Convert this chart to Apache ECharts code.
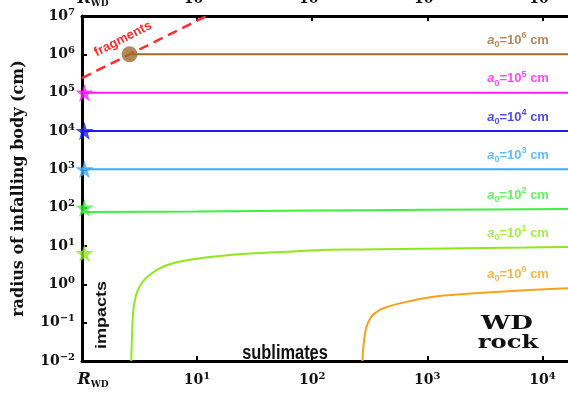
<!DOCTYPE html>
<html>
<head>
<meta charset="utf-8">
<script src="https://cdn.jsdelivr.net/npm/echarts@6/dist/echarts.min.js"></script>
<style>
html, body { margin: 0; padding: 0; background: #fff; }
#main { width: 568px; height: 396px; }
</style>
</head>
<body>
<div id="main"></div>
<script>
// axis range (distance in R_WD, radius in cm)
var xMin = 1, xMax = 16700;
var yMin = 0.01, yMax = 1e7;

// a0 = 10^6 .. 10^3 : flat tracks
var track6 = [[2.59, 1e6], [xMax, 1e6]];
var track5 = [[1, 1e5], [xMax, 1e5]];
var track4 = [[1, 1e4], [xMax, 1e4]];
var track3 = [[1, 1e3], [xMax, 1e3]];
// a0 = 10^2
var track2X = [1, 10, 100, 1000, xMax];
var track2Y = [77, 80, 84, 88, 92];
// a0 = 10^1
var track1X = [2.678, 2.71, 2.765, 2.861, 3.056, 3.379, 3.864, 4.72, 6.16, 9.19, 15.7, 30.6, 59.7, 116, 259, 577, 1400, 3056, 7000, xMax];
var track1Y = [0.01, 0.0352, 0.143, 0.352, 0.711, 1.17, 1.75, 2.62, 3.53, 4.49, 5.48, 6.44, 7.10, 7.85, 8.1, 8.34, 8.6, 8.85, 9.1, 9.4];
// a0 = 10^0
var track0X = [273.3, 280.4, 296.0, 320.7, 349.5, 412.8, 577, 1123, 3056, 7000, xMax];
var track0Y = [0.01, 0.0289, 0.0783, 0.130, 0.175, 0.237, 0.319, 0.475, 0.604, 0.70, 0.787];
// fragmentation limit
var fragX = [1, 2.59, 12.1];
var fragY = [2.41e5, 1e6, 1e7];
// starting points (stars) and the fragmenting body (dot)
var starY = [1e5, 1e4, 1e3, 100, 6.5];
var dotX = [2.59], dotY = [1e6];
// right-hand labels
var labelExp = [6, 5, 4, 3, 2, 1, 0];
var labelY = [1e6, 1e5, 1e4, 1e3, 92, 9.4, 0.8];
var labelX = 11400;

var cBrown = '#a06b30', cMag = '#ff1aff', cBlue = '#1a1af0', cSky = '#3aabff',
    cGreen = '#3cf03c', cLime = '#8ee81a', cOrange = '#f7a21b', cRed = '#ff2a2a';
var labelColors = [cBrown, cMag, cBlue, cSky, cGreen, cLime, cOrange];
var starColors = [cMag, cBlue, cSky, cGreen, cLime];

var starPath = 'path://M50,0 L61,35 L98,35 L68,57 L79,91 L50,70 L21,91 L32,57 L2,35 L39,35 Z';
var serif = "'DejaVu Serif', serif";
var sans = "'Liberation Sans', Arial, sans-serif";

function zip(xs, ys) {
	var out = [];
	for (var i = 0; i < xs.length; i++) out.push([xs[i], ys[i]]);
	return out;
}

function powLabel(v) {
	var e = Math.round(Math.log10(v));
	if (Math.abs(Math.log10(v) - e) > 1e-6) return '';
	return '{b|10}{e|' + (e < 0 ? '\u2212' + (-e) : e) + '}';
}

function xLabel(v) {
	var e = Math.log10(v);
	if (Math.abs(e) < 1e-6) return '{r|R}{w|WD}';
	return powLabel(v);
}

var richPow = {
	b: { fontFamily: serif, fontWeight: 'bold', fontSize: 14, color: '#111', lineHeight: 18 },
	e: { fontFamily: serif, fontWeight: 'bold', fontSize: 10, color: '#111', lineHeight: 10, verticalAlign: 'top' },
	r: { fontFamily: serif, fontStyle: 'italic', fontWeight: 'bold', fontSize: 16, color: '#111', lineHeight: 18, padding: [0, 0, 0, 22] },
	w: { fontFamily: serif, fontWeight: 'bold', fontSize: 9, color: '#111', lineHeight: 9, verticalAlign: 'bottom' }
};

var a0Rich = {
	a: { fontFamily: sans, fontWeight: 'bold', fontStyle: 'italic', fontSize: 13, lineHeight: 18 },
	s: { fontFamily: sans, fontWeight: 'bold', fontSize: 9, lineHeight: 9, verticalAlign: 'bottom' },
	t: { fontFamily: sans, fontWeight: 'bold', fontSize: 13, lineHeight: 18 },
	p: { fontFamily: sans, fontWeight: 'bold', fontSize: 9, lineHeight: 9, verticalAlign: 'top' }
};

var labelData = [];
for (var i = 0; i < labelExp.length; i++) {
	labelData.push({
		value: [labelX, labelY[i], labelExp[i]],
		label: { color: labelColors[i] }
	});
}

var starData = [];
for (var i = 0; i < starY.length; i++) {
	starData.push({ value: [1.05, starY[i]], itemStyle: { color: starColors[i] } });
}

function track(data, color, extra) {
	var s = {
		type: 'line',
		data: data,
		showSymbol: false,
		lineStyle: { color: color, width: 2 },
		itemStyle: { color: color },
		animation: false,
		z: 3
	};
	for (var k in extra) s[k] = extra[k];
	return s;
}

var chart = echarts.init(document.getElementById('main'));
var option = {
	animation: false,
	grid: { left: 82, right: 0, top: 16, bottom: 35, containLabel: false, outerBoundsMode: 'none' },
	xAxis: [{
		type: 'log', logBase: 10, min: xMin, max: xMax,
		position: 'bottom',
		axisLine: { lineStyle: { color: '#000', width: 3 } },
		axisTick: { inside: true, length: 5, lineStyle: { color: '#000', width: 2 } },
		minorTick: { show: false },
		splitLine: { show: false },
		axisLabel: { margin: 10, formatter: xLabel, rich: richPow, showMaxLabel: false }
	}, {
		type: 'log', logBase: 10, min: xMin, max: xMax,
		position: 'top',
		axisLine: { lineStyle: { color: '#000', width: 3 } },
		axisTick: { inside: true, length: 5, lineStyle: { color: '#000', width: 2 } },
		splitLine: { show: false },
		axisLabel: { margin: 8, formatter: xLabel, rich: richPow, showMaxLabel: false }
	}],
	yAxis: {
		type: 'log', logBase: 10, min: yMin, max: yMax,
		axisLine: { onZero: false, lineStyle: { color: '#000', width: 3 } },
		axisTick: { inside: true, length: 5, lineStyle: { color: '#000', width: 2 } },
		splitLine: { show: false },
		axisLabel: { margin: 7, formatter: powLabel, rich: richPow },
		name: 'radius of infalling body (cm)',
		nameLocation: 'middle',
		nameRotate: 90,
		nameGap: 55,
		nameTextStyle: { fontFamily: serif, fontWeight: 'bold', fontSize: 16, color: '#111' }
	},
	series: [
		track(zip(fragX, fragY), cRed, { lineStyle: { color: cRed, width: 2.5, type: [10, 6] } }),
		track(track6, cBrown),
		track(track5, cMag),
		track(track4, cBlue),
		track(track3, cSky),
		track(zip(track2X, track2Y), cGreen, { smooth: 0.3 }),
		track(zip(track1X, track1Y), cLime, { smooth: 0.25 }),
		track(zip(track0X, track0Y), cOrange, { smooth: 0.25 }),
		{
			type: 'scatter', data: starData, symbol: starPath, symbolSize: 18, z: 5
		},
		{
			type: 'scatter', data: zip(dotX, dotY), symbol: 'circle', symbolSize: 16,
			itemStyle: { color: cBrown }, z: 5
		},
		{
			type: 'scatter', data: labelData, symbolSize: 0, silent: true, z: 6,
			label: {
				show: true, position: 'left', distance: 0, offset: [0, -14],
				formatter: function (p) {
					return '{a|a}{s|0}{t|=10}{p|' + p.value[2] + '}{t| cm}';
				},
				rich: a0Rich
			}
		}
	],
	graphic: [
		{ type: 'text', x: 123, y: 39, rotation: 0.47, z: 10,
			style: { text: 'fragments', fill: cRed, font: 'bold 13px ' + sans, align: 'center', verticalAlign: 'middle' } },
		{ type: 'text', x: 102, y: 315, rotation: Math.PI / 2, z: 10, scaleX: 1.2,
			style: { text: 'impacts', fill: '#111', font: 'bold 15px ' + sans, align: 'center', verticalAlign: 'middle' } },
		{ type: 'text', x: 285, y: 353, z: 10, scaleX: 0.82,
			style: { text: 'sublimates', fill: '#111', font: 'bold 20px ' + sans, align: 'center', verticalAlign: 'middle' } },
		{ type: 'text', x: 507, y: 324, z: 10, scaleX: 1.45,
			style: { text: 'WD', fill: '#111', font: '900 18px ' + serif, align: 'center', verticalAlign: 'middle' } },
		{ type: 'text', x: 508, y: 343, z: 10, scaleX: 1.35,
			style: { text: 'rock', fill: '#111', font: '900 18px ' + serif, align: 'center', verticalAlign: 'middle' } }
	]
};
chart.setOption(option);
</script>
</body>
</html>
